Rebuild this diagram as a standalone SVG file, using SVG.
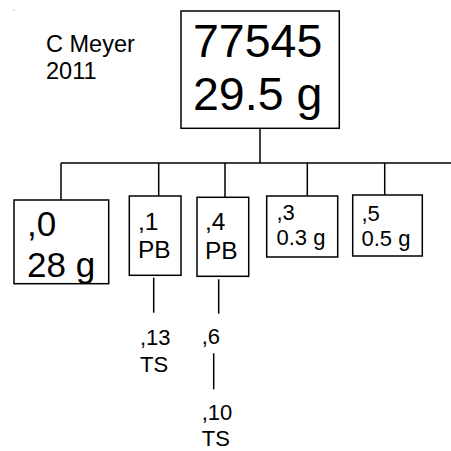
<svg xmlns="http://www.w3.org/2000/svg" width="451" height="451" viewBox="0 0 451 451">
<style>
.box{fill:#fff;stroke:#000;stroke-width:1.5}
.ln{stroke:#000;stroke-width:1.5;fill:none}
text{font-family:"Liberation Sans",Arial,sans-serif;fill:#000}
</style>
<rect x="0" y="0" width="451" height="451" fill="#fff"/>
<rect x="13.5" y="9.5" width="1" height="1" fill="#999"/>
<text x="46" y="52" font-size="23.5">C Meyer</text>
<text x="46" y="79" font-size="23.5">2011</text>
<g id="connectors" class="ln">
<line x1="260" y1="128" x2="260" y2="163"/>
<line x1="61" y1="163" x2="451" y2="163"/>
<line x1="61" y1="163" x2="61" y2="200"/>
<line x1="158.7" y1="163" x2="158.7" y2="196"/>
<line x1="225" y1="163" x2="225" y2="197.3"/>
<line x1="307.3" y1="163" x2="307.3" y2="196"/>
<line x1="384.7" y1="163" x2="384.7" y2="195"/>
<line x1="153.7" y1="277.7" x2="153.7" y2="312.7"/>
<line x1="218.7" y1="279.3" x2="218.7" y2="313.7"/>
<line x1="213.7" y1="353.3" x2="213.7" y2="389.3"/>
</g>
<g id="n77545">
<rect class="box" x="181" y="11" width="158.3" height="117.3"/>
<text x="193" y="57" font-size="46.5">77545</text>
<text x="193" y="109.5" font-size="46.5">29.5 g</text>
</g>
<g id="n0">
<rect class="box" x="14" y="200" width="94.7" height="83.7"/>
<text x="27" y="235.7" font-size="35">,0</text>
<text x="27" y="276.7" font-size="35">28 g</text>
</g>
<g id="n1">
<rect class="box" x="129.3" y="196" width="51.7" height="79.3"/>
<text x="138" y="230" font-size="24.5">,1</text>
<text x="138" y="258.3" font-size="24.5">PB</text>
</g>
<g id="n4">
<rect class="box" x="197" y="197.3" width="51.7" height="79"/>
<text x="205" y="230" font-size="24.5">,4</text>
<text x="205" y="259" font-size="24.5">PB</text>
</g>
<g id="n3">
<rect class="box" x="266.7" y="196" width="71" height="61"/>
<text x="276.5" y="220" font-size="22">,3</text>
<text x="276.5" y="245" font-size="22">0.3 g</text>
</g>
<g id="n5">
<rect class="box" x="352.7" y="195" width="69.6" height="61"/>
<text x="361.5" y="221" font-size="22">,5</text>
<text x="361.5" y="246" font-size="22">0.5 g</text>
</g>
<g id="n13">
<text x="140" y="345" font-size="22">,13</text>
<text x="140" y="371.7" font-size="22">TS</text>
</g>
<g id="n6">
<text x="201.7" y="344" font-size="22">,6</text>
</g>
<g id="n10">
<text x="201.7" y="420" font-size="22">,10</text>
<text x="201.7" y="446" font-size="22">TS</text>
</g>
</svg>
